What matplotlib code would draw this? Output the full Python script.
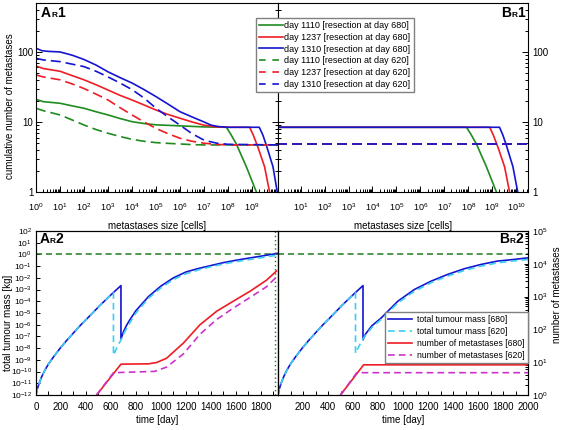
import numpy as np
import matplotlib
matplotlib.use("Agg")
import matplotlib.pyplot as plt
from matplotlib.lines import Line2D
from matplotlib.ticker import (LogLocator, FixedLocator, NullLocator, NullFormatter,
                               FuncFormatter, MultipleLocator, LogFormatterSciNotation)

plt.rcParams['font.family'] = ['Liberation Sans', 'DejaVu Sans']
plt.rcParams['mathtext.fontset'] = 'custom'
plt.rcParams['mathtext.rm'] = 'Liberation Sans'
plt.rcParams['mathtext.it'] = 'Liberation Sans:italic'
plt.rcParams['mathtext.bf'] = 'Liberation Sans:bold'
plt.rcParams['axes.linewidth'] = 0.8

# ---------------- data: top row (log10 of metastasis size -> cumulative number) --------
# model A, resection at day 680 (solid)
a1_exp_1110_680 = [0, 0.3, 1, 1.5, 2, 2.5, 3, 3.5, 4, 4.5, 5, 6, 7, 7.93, 8.1, 8.35, 8.76, 9.18]
a1_num_1110_680 = [21, 19.5, 18.5, 17, 15.7, 14, 12.6, 11.2, 10.1, 9.5, 9.1, 8.8, 8.5, 8.4, 6.8, 4.8, 2.3, 1.0]
a1_exp_1237_680 = [0, 0.3, 1, 1.5, 2, 2.5, 3, 3.5, 4, 4.5, 5, 5.5, 6, 6.5, 7, 7.5, 8, 8.9, 9.05, 9.24, 9.52, 9.73]
a1_num_1237_680 = [63, 58, 53, 46, 40, 34, 28.6, 24, 20.6, 17.5, 14.8, 12.8, 11.3, 10, 9.0, 8.5, 8.4, 8.4, 6.5, 4.4, 2.3, 1.0]
a1_exp_1310_680 = [0, 0.25, 0.5, 1, 1.5, 2, 2.5, 3, 3.5, 4, 4.5, 5, 5.5, 6, 6.5, 7, 7.3, 7.6, 8, 9.3, 9.45, 9.59, 9.87, 10.05]
a1_num_1310_680 = [113, 104, 102, 100, 90, 78, 65, 52, 43, 36, 29, 23, 18, 14, 11.8, 10, 9.0, 8.6, 8.4, 8.4, 6.5, 4.7, 2.3, 1.0]
# model A, resection at day 620 (dashed)
a1_exp_620 = [0, 0.3, 1, 1.5, 2, 2.5, 3, 3.5, 4, 4.5, 5, 5.5, 6, 6.5, 7, 7.5, 8, 10.1]
a1_num_1110_620 = [15.7, 14.5, 12.6, 10.7, 9.05, 7.8, 6.9, 6.2, 5.65, 5.3, 5.07, 4.95, 4.85, 4.75, 4.7, 4.7, 4.7, 4.7]
a1_num_1237_620 = [47, 44, 40, 35, 30, 25, 20.6, 16, 12.6, 10, 8.1, 6.8, 5.85, 5.3, 4.97, 4.8, 4.7, 4.7]
a1_num_1310_620 = [81, 77, 72.7, 67, 61.7, 53, 44, 36, 29, 22, 15.7, 11.8, 9.0, 6.8, 5.5, 5.0, 4.8, 4.7]

# model B
b1_exp_1110_680 = [0, 7.93, 8.1, 8.35, 8.76, 9.18]
b1_num_1110_680 = [8.4, 8.4, 6.8, 4.8, 2.3, 1.0]
b1_exp_1237_680 = [0, 8.9, 9.05, 9.24, 9.52, 9.73]
b1_num_1237_680 = [8.4, 8.4, 6.5, 4.4, 2.3, 1.0]
b1_exp_1310_680 = [0, 9.31, 9.45, 9.59, 9.87, 10.07]
b1_num_1310_680 = [8.4, 8.4, 6.5, 4.7, 2.3, 1.0]
b1_exp_620 = [0, 10.5]
b1_num_620 = [4.8, 4.8]

top_labels = ["day 1110 [resection at day 680]", "day 1237 [resection at day 680]",
              "day 1310 [resection at day 680]", "day 1110 [resection at day 620]",
              "day 1237 [resection at day 620]", "day 1310 [resection at day 620]"]

# ---------------- data: bottom row (time in days) -----------------------------------
# log10 of total tumour mass [kg]
t_pre = [0, 10, 25, 45, 70, 100, 140, 190, 245, 300, 360, 430, 512, 580, 620, 680]
m_pre = [-12, -11.5, -11.0, -10.45, -9.9, -9.35, -8.75, -8.05, -7.35, -6.7, -6.0, -5.25, -4.35, -3.65, -3.25, -2.66]

a2_t_mass_680 = [680, 700, 725, 750, 800, 900, 1000, 1100, 1200, 1300, 1400, 1500, 1600, 1700, 1800, 1940]
a2_mass_680 = [-7.23, -6.6, -6.05, -5.6, -4.8, -3.6, -2.7, -2.0, -1.5, -1.2, -0.95, -0.7, -0.5, -0.32, -0.15, 0.1]
a2_t_mass_620 = [620, 650, 680, 700, 750, 800, 900, 1000, 1100, 1200, 1300, 1400, 1500, 1600, 1700, 1800, 1940]
a2_mass_620 = [-8.6, -7.9, -7.3, -6.8, -5.85, -5.0, -3.75, -2.85, -2.15, -1.65, -1.32, -1.05, -0.82, -0.62, -0.45, -0.28, -0.05]

b2_t_mass_680 = [680, 700, 750, 825, 958, 1090, 1223, 1356, 1488, 1622, 1755, 1887, 2000]
b2_mass_680 = [-7.29, -6.8, -6.1, -5.43, -4.0, -3.0, -2.29, -1.71, -1.23, -0.86, -0.57, -0.43, -0.29]
b2_t_mass_620 = [620, 650, 680, 700, 750, 825, 958, 1090, 1223, 1356, 1488, 1622, 1755, 1887, 2000]
b2_mass_620 = [-8.43, -7.8, -7.2, -6.9, -6.25, -5.55, -4.15, -3.15, -2.42, -1.85, -1.38, -1.0, -0.72, -0.55, -0.43]

# log10 of number of metastases
a2_t_num_680 = [485, 680, 900, 965, 1045, 1179, 1312, 1445, 1579, 1712, 1845, 1925]
a2_num_680 = [0, 0.94, 0.95, 0.99, 1.12, 1.58, 2.14, 2.55, 2.86, 3.16, 3.5, 3.78]
a2_t_num_620 = [485, 620, 950, 1045, 1179, 1312, 1445, 1579, 1712, 1845, 1925]
a2_num_620 = [0, 0.68, 0.72, 0.85, 1.25, 1.85, 2.3, 2.65, 2.97, 3.3, 3.6]
b2_t_num_680 = [500, 685, 2000]
b2_num_680 = [0, 0.92, 0.92]
b2_t_num_620 = [500, 630, 2000]
b2_num_620 = [0, 0.68, 0.68]

bottom_labels = ["total tumour mass [680]", "total tumour mass [620]",
                 "number of metastases [680]", "number of metastases [620]"]

GREEN, RED, BLUE = '#1e8c1e', '#ee1c24', '#1414d2'
CYAN, MAGENTA, DKGREEN = '#3ccdf0', '#cc33cc', '#1f7a1f'
LW = 1.2
DASH = (6, 3)
SDASH = (4, 2.5)

W, H = 563, 430
fig = plt.figure(figsize=(W / 100, H / 100), dpi=100)


def box(x0, y0, x1, y1):
    return [x0 / W, 1 - y1 / H, (x1 - x0) / W, (y1 - y0) / H]


axA1 = fig.add_axes(box(36, 3, 278, 192))
axB1 = fig.add_axes(box(278, 3, 528, 192))
axA2 = fig.add_axes(box(36, 231, 278, 395))
axB2 = fig.add_axes(box(278, 231, 528, 395))


def p10(v):
    return np.power(10.0, v)


# ---------------- top row ----------------
for ax in (axA1, axB1):
    ax.set_xscale('log')
    ax.set_yscale('log')
    ax.set_ylim(1, 500)
    ax.yaxis.set_major_locator(FixedLocator([1, 10, 100]))
    ax.yaxis.set_major_formatter(FuncFormatter(lambda v, p: f"{v:g}"))
    ax.yaxis.set_minor_locator(LogLocator(base=10, subs=np.arange(2, 10), numticks=20))
    ax.yaxis.set_minor_formatter(NullFormatter())
    ax.xaxis.set_minor_locator(LogLocator(base=10, subs=np.arange(2, 10), numticks=20))
    ax.xaxis.set_minor_formatter(NullFormatter())
    ax.tick_params(axis='both', which='both', direction='in', labelsize=7, width=0.7)
    ax.tick_params(axis='x', labelsize=6.5, pad=7)
    ax.tick_params(axis='both', which='major', length=4)
    ax.tick_params(axis='both', which='minor', length=2)
    ax.set_xlabel("metastases size [cells]", fontsize=7)
    ax.xaxis.set_label_coords(0.5, -0.155)

axA1.set_xlim(1, p10(10.08))
axB1.set_xlim(p10(0.05), p10(10.5))
axA1.xaxis.set_major_locator(FixedLocator(p10(np.arange(0, 10))))
axB1.xaxis.set_major_locator(FixedLocator(p10(np.arange(1, 11))))
axA1.xaxis.set_major_formatter(LogFormatterSciNotation())
axB1.xaxis.set_major_formatter(LogFormatterSciNotation())

axA1.tick_params(axis='y', which='both', left=True, right=True, labelleft=True, labelright=False, pad=2)
axB1.tick_params(axis='y', which='both', left=True, right=True, labelleft=False, labelright=True, pad=3)
axA1.set_ylabel("cumulative number of metastases", fontsize=7)
axA1.yaxis.set_label_coords(-0.085, 0.455)

for ax, data in ((axA1, [(a1_exp_1110_680, a1_num_1110_680, GREEN),
                         (a1_exp_1237_680, a1_num_1237_680, RED),
                         (a1_exp_1310_680, a1_num_1310_680, BLUE)]),
                 (axB1, [(b1_exp_1110_680, b1_num_1110_680, GREEN),
                         (b1_exp_1237_680, b1_num_1237_680, RED),
                         (b1_exp_1310_680, b1_num_1310_680, BLUE)])):
    for e, n, c in data:
        ax.plot(p10(e), n, color=c, lw=LW)

for n, c in ((a1_num_1110_620, GREEN), (a1_num_1237_620, RED), (a1_num_1310_620, BLUE)):
    axA1.plot(p10(a1_exp_620), n, color=c, lw=LW, dashes=DASH)
for c in (GREEN, RED, BLUE):
    axB1.plot(p10(b1_exp_620), b1_num_620, color=c, lw=LW, dashes=DASH)

top_handles = [Line2D([], [], color=c, lw=LW) for c in (GREEN, RED, BLUE)] + \
              [Line2D([], [], color=c, lw=LW, dashes=(4, 4)) for c in (GREEN, RED, BLUE)]
fig.legend(top_handles, top_labels, loc='upper left', bbox_to_anchor=(256 / W, 1 - 18 / H),
           fontsize=6.5, frameon=True, fancybox=False, edgecolor='#808080', framealpha=1,
           handlelength=2.6, handletextpad=0.2, labelspacing=0.3, borderpad=0.35,
           borderaxespad=0)

# ---------------- bottom row ----------------
axA2n = axA2.twinx()
axB2n = axB2.twinx()
for ax in (axA2, axB2):
    ax.set_yscale('log')
    ax.set_ylim(1e-12, 1e2)
    ax.yaxis.set_major_locator(LogLocator(base=10, numticks=30))
    ax.yaxis.set_minor_locator(NullLocator())
    ax.xaxis.set_major_locator(MultipleLocator(200))
    ax.xaxis.set_minor_locator(MultipleLocator(100))
    ax.tick_params(axis='x', which='both', direction='in', length=3, width=0.7, labelsize=7, pad=5)
    ax.set_xlabel("time [day]", fontsize=7)
    ax.xaxis.set_label_coords(0.5, -0.12)
for ax in (axA2n, axB2n):
    ax.set_yscale('log')
    ax.set_ylim(1, 1e5)
    ax.yaxis.set_major_locator(LogLocator(base=10, numticks=20))
    ax.yaxis.set_minor_locator(LogLocator(base=10, subs=np.arange(2, 10), numticks=20))
    ax.yaxis.set_minor_formatter(NullFormatter())

axA2.set_xlim(0, 1937)
axB2.set_xlim(0, 2000)
axB2.xaxis.set_major_formatter(FuncFormatter(lambda v, p: '' if v < 1 else f"{v:.0f}"))

axA2.tick_params(axis='y', direction='in', length=3, width=0.7, labelsize=6, pad=3)
axB2.tick_params(axis='y', left=False, labelleft=False)
axA2n.tick_params(axis='y', which='both', right=False, labelright=False)
axB2n.tick_params(axis='y', which='both', direction='in', width=0.7, labelsize=6.5, pad=3)
axB2n.tick_params(axis='y', which='major', length=3)
axB2n.tick_params(axis='y', which='minor', length=2)
axA2.set_ylabel("total tumour mass [kg]", fontsize=7)
axA2.yaxis.set_label_coords(-0.095, 0.44)
axB2n.set_ylabel("number of metastases", fontsize=7)
axB2n.yaxis.set_label_coords(1.095, 0.61)

for ax, t680, m680, t620, m620 in ((axA2, a2_t_mass_680, a2_mass_680, a2_t_mass_620, a2_mass_620),
                                   (axB2, b2_t_mass_680, b2_mass_680, b2_t_mass_620, b2_mass_620)):
    ax.axhline(1.0, color=DKGREEN, lw=1.1, dashes=SDASH)
    ax.plot(t_pre + t680, p10(m_pre + m680), color=BLUE, lw=LW)
    ax.plot(t_pre[:-1] + t620, p10(m_pre[:-1] + m620), color=CYAN, lw=LW, dashes=SDASH)

axA2.axvline(1915, color=DKGREEN, lw=1.0, ls=(0, (1, 2)))

for ax, t680, n680, t620, n620 in ((axA2n, a2_t_num_680, a2_num_680, a2_t_num_620, a2_num_620),
                                   (axB2n, b2_t_num_680, b2_num_680, b2_t_num_620, b2_num_620)):
    ax.plot(t680, p10(n680), color=RED, lw=LW)
    ax.plot(t620, p10(n620), color=MAGENTA, lw=LW, dashes=SDASH)

bot_handles = [Line2D([], [], color=BLUE, lw=LW), Line2D([], [], color=CYAN, lw=LW, dashes=SDASH),
               Line2D([], [], color=RED, lw=LW), Line2D([], [], color=MAGENTA, lw=LW, dashes=SDASH)]
fig.legend(bot_handles, bottom_labels, loc='upper right', bbox_to_anchor=(528 / W, 1 - 312 / H),
           fontsize=6.2, frameon=True, fancybox=False, edgecolor='#808080', framealpha=1,
           handlelength=2.8, handletextpad=0.6, labelspacing=0.35, borderpad=0.35,
           borderaxespad=0)

# ---------------- panel tags ----------------
renderer = fig.canvas.get_renderer()


def panel_tag(x, y, letter, num, align='left'):
    parts = [(letter, 10), ('R', 6), (num, 10)]
    widths = []
    for s, fs in parts:
        t = fig.text(0, 0, s, fontsize=fs, fontweight='bold')
        widths.append(t.get_window_extent(renderer).width)
        t.remove()
    x0 = x if align == 'left' else x - sum(widths)
    for (s, fs), w in zip(parts, widths):
        fig.text(x0 / W, 1 - y / H, s, fontsize=fs, fontweight='bold', va='baseline', ha='left')
        x0 += w


panel_tag(41, 17, 'A', '1')
panel_tag(525, 17, 'B', '1', align='right')
panel_tag(40, 243, 'A', '2')
panel_tag(523, 243, 'B', '2', align='right')

fig.savefig("out.png", dpi=100)
